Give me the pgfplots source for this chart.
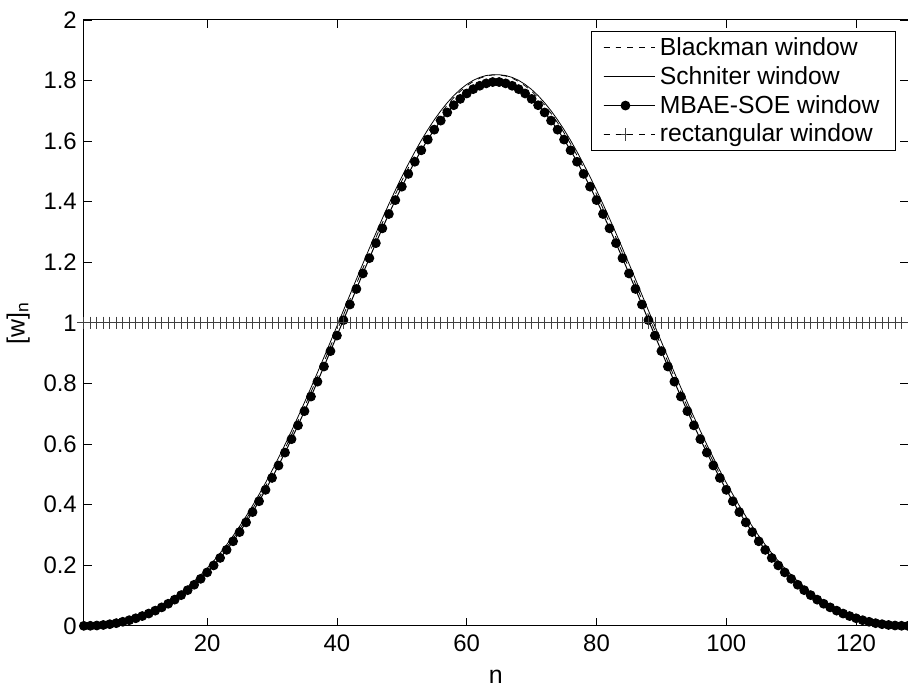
\documentclass[border=0pt]{standalone}
\usepackage{pgfplots}
\pgfplotsset{compat=1.18}
\usepackage{pgfplotstable}
\usepackage{fontspec}
\setmainfont{Liberation Sans}

\pgfplotstableread{
n b s m r
1 0.0000 0.0001 0.0000 1
2 0.0004 0.0006 0.0002 1
3 0.0016 0.0021 0.0011 1
4 0.0036 0.0043 0.0029 1
5 0.0065 0.0075 0.0055 1
6 0.0102 0.0115 0.0089 1
7 0.0149 0.0164 0.0134 1
8 0.0205 0.0223 0.0187 1
9 0.0271 0.0292 0.0250 1
10 0.0347 0.0371 0.0323 1
11 0.0434 0.0462 0.0406 1
12 0.0534 0.0566 0.0502 1
13 0.0645 0.0680 0.0610 1
14 0.0770 0.0810 0.0730 1
15 0.0909 0.0953 0.0865 1
16 0.1062 0.1110 0.1014 1
17 0.1231 0.1284 0.1178 1
18 0.1415 0.1473 0.1357 1
19 0.1615 0.1678 0.1552 1
20 0.1833 0.1901 0.1765 1
21 0.2068 0.2141 0.1995 1
22 0.2321 0.2400 0.2242 1
23 0.2592 0.2676 0.2508 1
24 0.2881 0.2971 0.2791 1
25 0.3190 0.3285 0.3095 1
26 0.3516 0.3617 0.3415 1
27 0.3861 0.3967 0.3755 1
28 0.4225 0.4337 0.4113 1
29 0.4606 0.4723 0.4489 1
30 0.5005 0.5127 0.4883 1
31 0.5420 0.5547 0.5293 1
32 0.5851 0.5983 0.5719 1
33 0.6298 0.6434 0.6162 1
34 0.6758 0.6898 0.6618 1
35 0.7231 0.7375 0.7087 1
36 0.7715 0.7862 0.7568 1
37 0.8210 0.8360 0.8060 1
38 0.8712 0.8864 0.8560 1
39 0.9222 0.9376 0.9068 1
40 0.9736 0.9891 0.9581 1
41 1.0253 1.0408 1.0090 1
42 1.0771 1.0926 1.0606 1
43 1.1288 1.1443 1.1120 1
44 1.1802 1.1955 1.1632 1
45 1.2310 1.2461 1.2137 1
46 1.2810 1.2959 1.2633 1
47 1.3301 1.3446 1.3121 1
48 1.3779 1.3920 1.3594 1
49 1.4243 1.4380 1.4053 1
50 1.4691 1.4822 1.4496 1
51 1.5119 1.5244 1.4918 1
52 1.5527 1.5646 1.5319 1
53 1.5913 1.6025 1.5698 1
54 1.6273 1.6377 1.6051 1
55 1.6607 1.6703 1.6378 1
56 1.6913 1.7000 1.6677 1
57 1.7188 1.7266 1.6946 1
58 1.7433 1.7502 1.7185 1
59 1.7645 1.7704 1.7394 1
60 1.7824 1.7872 1.7572 1
61 1.7968 1.8006 1.7716 1
62 1.8076 1.8103 1.7827 1
63 1.8149 1.8165 1.7906 1
64 1.8185 1.8190 1.7950 1
65 1.8185 1.8190 1.7950 1
66 1.8149 1.8165 1.7906 1
67 1.8076 1.8103 1.7827 1
68 1.7968 1.8006 1.7716 1
69 1.7824 1.7872 1.7572 1
70 1.7645 1.7704 1.7394 1
71 1.7433 1.7502 1.7185 1
72 1.7188 1.7266 1.6946 1
73 1.6913 1.7000 1.6677 1
74 1.6607 1.6703 1.6378 1
75 1.6273 1.6377 1.6051 1
76 1.5913 1.6025 1.5698 1
77 1.5527 1.5646 1.5319 1
78 1.5119 1.5244 1.4918 1
79 1.4691 1.4822 1.4496 1
80 1.4243 1.4380 1.4053 1
81 1.3779 1.3920 1.3594 1
82 1.3301 1.3446 1.3121 1
83 1.2810 1.2959 1.2633 1
84 1.2310 1.2461 1.2137 1
85 1.1802 1.1955 1.1632 1
86 1.1288 1.1443 1.1120 1
87 1.0771 1.0926 1.0606 1
88 1.0253 1.0408 1.0090 1
89 0.9736 0.9891 0.9581 1
90 0.9222 0.9376 0.9068 1
91 0.8712 0.8864 0.8560 1
92 0.8210 0.8360 0.8060 1
93 0.7715 0.7862 0.7568 1
94 0.7231 0.7375 0.7087 1
95 0.6758 0.6898 0.6618 1
96 0.6298 0.6434 0.6162 1
97 0.5851 0.5983 0.5719 1
98 0.5420 0.5547 0.5293 1
99 0.5005 0.5127 0.4883 1
100 0.4606 0.4723 0.4489 1
101 0.4225 0.4337 0.4113 1
102 0.3861 0.3967 0.3755 1
103 0.3516 0.3617 0.3415 1
104 0.3190 0.3285 0.3095 1
105 0.2881 0.2971 0.2791 1
106 0.2592 0.2676 0.2508 1
107 0.2321 0.2400 0.2242 1
108 0.2068 0.2141 0.1995 1
109 0.1833 0.1901 0.1765 1
110 0.1615 0.1678 0.1552 1
111 0.1415 0.1473 0.1357 1
112 0.1231 0.1284 0.1178 1
113 0.1062 0.1110 0.1014 1
114 0.0909 0.0953 0.0865 1
115 0.0770 0.0810 0.0730 1
116 0.0645 0.0680 0.0610 1
117 0.0534 0.0566 0.0502 1
118 0.0434 0.0462 0.0406 1
119 0.0347 0.0371 0.0323 1
120 0.0271 0.0292 0.0250 1
121 0.0205 0.0223 0.0187 1
122 0.0149 0.0164 0.0134 1
123 0.0102 0.0115 0.0089 1
124 0.0065 0.0075 0.0055 1
125 0.0036 0.0043 0.0029 1
126 0.0016 0.0021 0.0011 1
127 0.0004 0.0006 0.0002 1
128 0.0000 0.0001 0.0000 1
}\windows

\begin{document}
\begin{tikzpicture}[trim axis right]
\begin{axis}[
  scale only axis,
  width=413.5pt, height=304pt,
  xmin=1, xmax=128, ymin=0, ymax=2,
  xtick={20,40,60,80,100,120},
  ytick={0,0.2,0.4,0.6,0.8,1,1.2,1.4,1.6,1.8,2},
  yticklabels={0,0.2,0.4,0.6,0.8,1,1.2,1.4,1.6,1.8,2},
  tick align=inside,
  major tick length=4pt,
  tick style={black, line width=0.4pt},
  axis line style={line width=0.5pt},
  /pgf/number format/assume math mode=true,
  ticklabel style={font=\fontsize{12}{14}\selectfont},
  xticklabel style={yshift=-1pt},
  xlabel={n},
  ylabel={[w]\textsubscript{n}},
  label style={font=\fontsize{12.5}{14}\selectfont},
  xlabel style={inner ysep=0pt, yshift=-5.5pt},
  clip=false,
  legend style={at={(1,1)}, anchor=north east, xshift=-6pt, yshift=-5.5pt,
    draw=black, line width=0.5pt, font=\fontsize{12.4}{14}\selectfont,
    cells={anchor=west}, inner xsep=6pt, inner ysep=1pt, row sep=0pt},
  legend image code/.code={%
    \draw[mark repeat=2,mark phase=2,#1] plot coordinates {(0pt,0pt) (11pt,0pt) (22pt,0pt)};
    \path (0pt,0pt) -- (26pt,0pt);},
]
\addplot[black, line width=0.4pt, dash pattern=on 3pt off 3pt] table[x=n,y=b]{\windows};
\addlegendentry{Blackman window}
\addplot[black, line width=0.4pt] table[x=n,y=s]{\windows};
\addlegendentry{Schniter window}
\addplot[black, line width=0.5pt, mark=*, mark size=2.2pt] table[x=n,y=m]{\windows};
\addlegendentry{MBAE-SOE window}
\addplot[black, line width=0.4pt, dash pattern=on 3pt off 3pt, mark=+, mark size=3.2pt, mark options={solid, black!75}] table[x=n,y=r]{\windows};
\addlegendentry{rectangular window}
\end{axis}
\path ([yshift=10pt]current axis.north west) ([yshift=-31.5pt]current axis.south west);
\end{tikzpicture}
\end{document}
